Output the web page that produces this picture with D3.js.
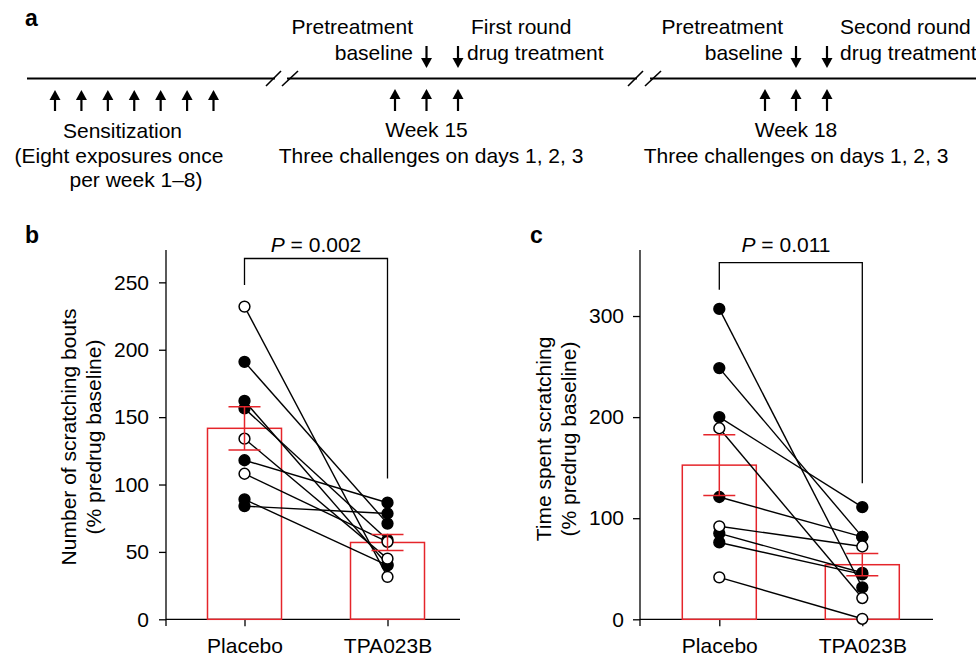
<!DOCTYPE html>
<meta charset="utf-8">
<head>
<style>
  body { margin: 0; background: #fff; }
  svg { display: block; font-family: "Liberation Sans", Arial, sans-serif; }
  .lbl { font-size: 21px; fill: #000; }
  .panel { font-size: 23px; font-weight: bold; }
</style>
</head>
<body>
<script src="https://cdnjs.cloudflare.com/ajax/libs/d3/7.8.5/d3.min.js"></script>
<script>

// ---- data ----
const groups = ["Placebo", "TPA023B"];

// b: number of scratching bouts (% predrug baseline), one entry per animal
const boutsPlacebo = [232, 191, 162, 156.5, 134, 118, 108, 89, 84];
const boutsTPA     = [31.5, 71, 40.5, 59, 45, 86.5, 57.5, 40, 78.5];
const boutsOpen    = [1, 0, 0, 0, 1, 0, 1, 0, 0];
const boutsMean    = [141.7, 57];
const boutsSem     = [16, 6];
const boutsTicks   = [0, 50, 100, 150, 200, 250];
const boutsP       = "0.002";
const boutsBracket = [248, 104.5];   // leg ends (placebo, TPA023B)

// c: time spent scratching (% predrug baseline)
const timePlacebo = [307, 248.5, 200, 189, 121, 92, 85, 76, 41.5];
const timeTPA     = [31.5, 81.5, 111, 21, 81.5, 72, 46, 44.5, 0.5];
const timeOpen    = [0, 0, 0, 1, 0, 1, 0, 0, 1];
const timeMean    = [152.5, 54];
const timeSem     = [30, 11];
const timeTicks   = [0, 100, 200, 300];
const timeP       = "0.011";
const timeBracket = [326, 134.5];

// a: timeline
const sensWeeks = [1, 2, 3, 4, 5, 6, 7];
const challengeDays = [1, 2, 3];
const sensText = ["Sensitization", "(Eight exposures once", "per week 1\u20138)"];
const blocks = [
  {week: "Week 15", treat: ["First round", "drug treatment"]},
  {week: "Week 18", treat: ["Second round", "drug treatment"]}
];

const red = "#e5252b";

const svg = d3.select("body").append("svg")
  .attr("width", 976)
  .attr("height", 656);

// ---------- panel a ----------
function upArrow(g, x, y0, y1) {
  g.append("line").attr("x1", x).attr("x2", x).attr("y1", y0 + 8).attr("y2", y1)
    .attr("stroke", "#000").attr("stroke-width", 2.2);
  g.append("path").attr("d", `M${x},${y0} L${x - 5.5},${y0 + 10} L${x + 5.5},${y0 + 10} Z`);
}
function downArrow(g, x, y0, y1) {
  g.append("line").attr("x1", x).attr("x2", x).attr("y1", y0).attr("y2", y1 - 8)
    .attr("stroke", "#000").attr("stroke-width", 2.2);
  g.append("path").attr("d", `M${x},${y1} L${x - 5.5},${y1 - 10} L${x + 5.5},${y1 - 10} Z`);
}

const ga = svg.append("g");
ga.append("text").attr("class", "panel").attr("x", 25).attr("y", 26).text("a");

const lineY = 78.5;
[[27, 275], [287, 637], [650, 976]].forEach(s => {
  ga.append("line").attr("x1", s[0]).attr("x2", s[1]).attr("y1", lineY).attr("y2", lineY)
    .attr("stroke", "#000").attr("stroke-width", 2.2);
});
[[266, 281], [282, 298], [628, 643], [645, 661]].forEach(s => {
  ga.append("line").attr("x1", s[0]).attr("x2", s[1]).attr("y1", 86).attr("y2", 71)
    .attr("stroke", "#000").attr("stroke-width", 1.6);
});

const xSens = d3.scaleLinear().domain([1, 7]).range([55, 213.5]);
sensWeeks.forEach(w => upArrow(ga, xSens(w), 90, 111));
sensText.forEach((t, i) => {
  ga.append("text").attr("class", "lbl").attr("text-anchor", "middle")
    .attr("x", [122.5, 119, 136][i]).attr("y", [138, 163, 187][i]).text(t);
});

const blockDay = [
  d3.scaleLinear().domain([1, 3]).range([395, 458]),
  d3.scaleLinear().domain([1, 3]).range([765, 827])
];
const blockCenter = [431, 796];
const blockEnd = [413, 783];
const blockTreatX = [[471, 467], [840, 840]];
blocks.forEach((b, i) => {
  const sx = blockDay[i];
  challengeDays.forEach(d => upArrow(ga, sx(d), 89, 111));
  downArrow(ga, sx(2), 46, 68);
  downArrow(ga, sx(3), 46, 68);
  ga.append("text").attr("class", "lbl").attr("text-anchor", "end")
    .attr("x", blockEnd[i]).attr("y", 34).text("Pretreatment");
  ga.append("text").attr("class", "lbl").attr("text-anchor", "end")
    .attr("x", blockEnd[i]).attr("y", 60).text("baseline");
  ga.append("text").attr("class", "lbl").attr("x", blockTreatX[i][0]).attr("y", 34).text(b.treat[0]);
  ga.append("text").attr("class", "lbl").attr("x", blockTreatX[i][1]).attr("y", 60).text(b.treat[1]);
  ga.append("text").attr("class", "lbl").attr("text-anchor", "middle")
    .attr("x", sx(2)).attr("y", 137).text(b.week);
  ga.append("text").attr("class", "lbl").attr("text-anchor", "middle")
    .attr("x", blockCenter[i]).attr("y", 163).text("Three challenges on days 1, 2, 3");
});

// ---------- panels b, c ----------
function drawPanel(o) {
  const g = svg.append("g");
  const y = d3.scaleLinear().domain([0, o.ymax]).range([619.3, 250]);
  const x = d3.scalePoint().domain(groups).range(o.xs);

  g.append("text").attr("class", "panel").attr("x", o.letterX).attr("y", 243).text(o.letter);

  // y axis
  const ya = g.append("g").attr("transform", `translate(${o.axisX},0)`)
    .call(d3.axisLeft(y).tickValues(o.ticks).tickSize(7).tickSizeOuter(0).tickPadding(o.pad));
  ya.select(".domain").remove();
  ya.selectAll("line").attr("stroke-width", 1.3);
  ya.selectAll("text").attr("font-size", 21).attr("font-family", "Liberation Sans, Arial, sans-serif");
  g.append("line").attr("x1", o.axisX).attr("x2", o.axisX).attr("y1", 250).attr("y2", 626)
    .attr("stroke", "#000").attr("stroke-width", 1.3);

  // x axis
  const xa = g.append("g").attr("transform", "translate(0,619.3)")
    .call(d3.axisBottom(x).tickSize(7).tickSizeOuter(0).tickPadding(12));
  xa.select(".domain").remove();
  xa.selectAll("line").attr("stroke-width", 1.3);
  xa.selectAll("text").attr("font-size", 21).attr("font-family", "Liberation Sans, Arial, sans-serif");
  g.append("line").attr("x1", o.axisX).attr("x2", o.xEnd).attr("y1", 619.3).attr("y2", 619.3)
    .attr("stroke", "#000").attr("stroke-width", 1.3);

  // axis title
  const tt = g.append("text").attr("class", "lbl").attr("text-anchor", "middle")
    .attr("transform", `translate(${o.titleX},${o.titleY}) rotate(-90)`);
  tt.append("tspan").attr("x", 0).attr("y", 0).text(o.title);
  tt.append("tspan").attr("x", 0).attr("y", 25).text("(% predrug baseline)");

  // bars
  g.selectAll("rect.bar").data(o.mean).join("rect")
    .attr("x", (d, i) => x(groups[i]) - 37)
    .attr("width", 74)
    .attr("y", d => y(d))
    .attr("height", d => y(0) - y(d))
    .attr("fill", "none").attr("stroke", red).attr("stroke-width", 1.5);

  // paired lines
  const pairs = o.pl.map((v, i) => ({a: v, b: o.tp[i], open: o.open[i]}));
  g.selectAll("line.pair").data(pairs).join("line")
    .attr("x1", x(groups[0])).attr("x2", x(groups[1]))
    .attr("y1", d => y(d.a)).attr("y2", d => y(d.b))
    .attr("stroke", "#000").attr("stroke-width", 1.4);

  // points
  const pts = [];
  pairs.forEach(p => {
    pts.push({g: groups[0], v: p.a, open: p.open});
    pts.push({g: groups[1], v: p.b, open: p.open});
  });
  pts.sort((p, q) => p.open - q.open);
  g.selectAll("circle.pt").data(pts).join("circle")
    .attr("cx", d => x(d.g)).attr("cy", d => y(d.v)).attr("r", 5.4)
    .attr("fill", d => d.open ? "#fff" : "#000")
    .attr("stroke", "#000").attr("stroke-width", 1.5);

  // error bars
  o.mean.forEach((m, i) => {
    const cx = x(groups[i]);
    g.append("line").attr("x1", cx).attr("x2", cx)
      .attr("y1", y(m - o.sem[i])).attr("y2", y(m + o.sem[i]))
      .attr("stroke", red).attr("stroke-width", 1.5);
    [m - o.sem[i], m + o.sem[i]].forEach(v => {
      g.append("line").attr("x1", cx - 16).attr("x2", cx + 16)
        .attr("y1", y(v)).attr("y2", y(v))
        .attr("stroke", red).attr("stroke-width", 1.5);
    });
  });

  // significance bracket
  const by = o.bracketY;
  g.append("path")
    .attr("d", `M${x(groups[0])},${y(o.bracket[0])} V${by} H${x(groups[1])} V${y(o.bracket[1])}`)
    .attr("fill", "none").attr("stroke", "#000").attr("stroke-width", 1.3);
  const pt = g.append("text").attr("class", "lbl").attr("text-anchor", "middle")
    .attr("x", o.pX).attr("y", 252);
  pt.append("tspan").attr("font-style", "italic").text("P");
  pt.append("tspan").text(" = " + o.p);
}

drawPanel({
  letter: "b", letterX: 25, axisX: 166, xEnd: 460, xs: [244.5, 387.5], pad: 10,
  ymax: 274, ticks: boutsTicks, title: "Number of scratching bouts",
  titleX: 76, titleY: 437,
  pl: boutsPlacebo, tp: boutsTPA, open: boutsOpen, mean: boutsMean, sem: boutsSem,
  bracket: boutsBracket, bracketY: 258.5, p: boutsP, pX: 316
});

drawPanel({
  letter: "c", letterX: 530, axisX: 640, xEnd: 933, xs: [719.3, 862.3], pad: 9,
  ymax: 365.3, ticks: timeTicks, title: "Time spent scratching",
  titleX: 551, titleY: 439,
  pl: timePlacebo, tp: timeTPA, open: timeOpen, mean: timeMean, sem: timeSem,
  bracket: timeBracket, bracketY: 262.7, p: timeP, pX: 786
});

</script>
</body>
